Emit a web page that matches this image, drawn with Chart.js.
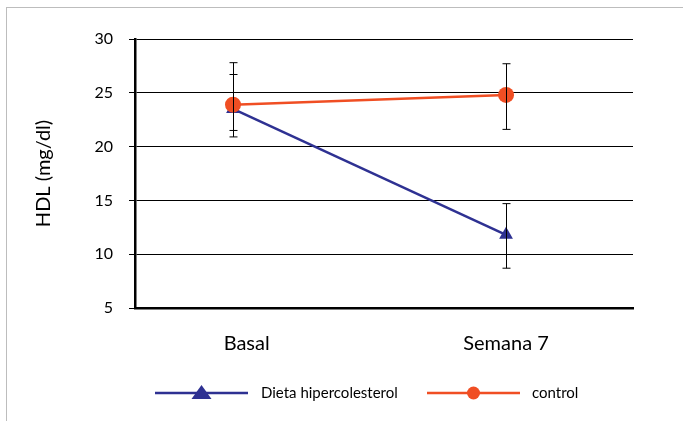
<!DOCTYPE html>
<html>
<head>
<meta charset="utf-8">
<script src="https://cdn.jsdelivr.net/npm/chart.js@4"></script>
<style>
  body { margin: 0; background: #fff; }
  #frame { position: absolute; left: 6px; top: 7px; width: 720px; height: 460px;
           border-left: 1px solid #bdbdbd; border-top: 1px solid #bdbdbd; }
  #wrap { position: absolute; left: 0; top: 0; width: 683px; height: 421px; }
</style>
</head>
<body>
<div id="frame"></div>
<div id="wrap"><canvas id="myChart"></canvas></div>
<script>
// categories and series
const categorias = ['Basal', 'Semana 7']
const posX = [0, 1]              // where each group sits on the x axis
const posEtiqueta = [0.05, 1.0]  // where the category labels sit
const dieta = [23.5, 11.8]
const dietaBajo = [20.9, 8.7]
const dietaAlto = [26.7, 14.7]
const control = [23.9, 24.8]
const controlBajo = [21.5, 21.6]
const controlAlto = [27.8, 27.7]
const ticksY = [5, 10, 15, 20, 25, 30]

const AZUL = '#2e3192'
const ROJO = '#f04e23'
const FUENTE = 'Lato, "Open Sans", sans-serif'

const puntos = (vals) => vals.map((v, i) => ({ x: posX[i], y: v }))

// vertical error bars with caps, drawn right after each dataset
const barrasError = {
    id: 'barrasError',
    afterDatasetDraw(chart, args) {
        const ds = chart.data.datasets[args.index]
        if (!ds.bajo) return
        const ctx = chart.ctx
        const xs = chart.scales.x, ys = chart.scales.y
        ctx.save()
        ctx.strokeStyle = '#000'
        ctx.lineWidth = 1
        ds.bajo.forEach((b, i) => {
            const x = Math.round(xs.getPixelForValue(posX[i])) + 0.5
            const y1 = ys.getPixelForValue(b)
            const y2 = ys.getPixelForValue(ds.alto[i])
            ctx.beginPath()
            ctx.moveTo(x, y1); ctx.lineTo(x, y2)
            ctx.moveTo(x - 4, y1); ctx.lineTo(x + 4, y1)
            ctx.moveTo(x - 4, y2); ctx.lineTo(x + 4, y2)
            ctx.stroke()
        })
        ctx.restore()
    }
}

// legend: line + marker + label, under the axis
const leyenda = {
    id: 'leyenda',
    afterDraw(chart) {
        const ctx = chart.ctx
        const y = 393
        const items = [
            { x1: 155, x2: 248, color: AZUL, forma: 'triangle', texto: 'Dieta hipercolesterol', tx: 261 },
            { x1: 427, x2: 520, color: ROJO, forma: 'circle', texto: 'control', tx: 532 }
        ]
        ctx.save()
        items.forEach(it => {
            ctx.strokeStyle = it.color
            ctx.lineWidth = 2.5
            ctx.beginPath(); ctx.moveTo(it.x1, y); ctx.lineTo(it.x2, y); ctx.stroke()
            ctx.fillStyle = it.color
            const cx = (it.x1 + it.x2) / 2
            ctx.beginPath()
            if (it.forma === 'triangle') {
                ctx.moveTo(cx, y - 8); ctx.lineTo(cx + 10, y + 6); ctx.lineTo(cx - 10, y + 6)
                ctx.closePath()
            } else {
                ctx.arc(cx, y, 6.5, 0, Math.PI * 2)
            }
            ctx.fill()
            ctx.fillStyle = '#000'
            ctx.font = '15px ' + FUENTE
            ctx.textBaseline = 'middle'
            ctx.fillText(it.texto, it.tx, y)
        })
        ctx.restore()
    }
}

var ctx = document.getElementById('myChart')
var myChart = new Chart(ctx, {
    type: 'line',
    data: {
        datasets: [{
            label: 'Dieta hipercolesterol',
            data: puntos(dieta),
            bajo: dietaBajo,
            alto: dietaAlto,
            borderColor: AZUL,
            backgroundColor: AZUL,
            borderWidth: 2.5,
            pointStyle: 'triangle',
            pointRadius: 8,
            pointBorderWidth: 0,
            order: 1
        }, {
            label: 'control',
            data: puntos(control),
            bajo: controlBajo,
            alto: controlAlto,
            borderColor: ROJO,
            backgroundColor: ROJO,
            borderWidth: 2.5,
            pointStyle: 'circle',
            pointRadius: 8,
            pointBorderWidth: 0,
            order: 0
        }]
    },
    options: {
        responsive: true,
        maintainAspectRatio: false,
        animation: false,
        layout: { padding: { top: 39, right: 50, left: 0, bottom: 0 } },
        plugins: {
            legend: { display: false },
            tooltip: { enabled: false }
        },
        scales: {
            x: {
                type: 'linear',
                min: -0.359,
                max: 1.465,
                afterFit: s => { s.height = 113 },
                afterBuildTicks: s => { s.ticks = posEtiqueta.map(v => ({ value: v })) },
                grid: { display: false, drawTicks: false },
                border: { display: true, color: '#000', width: 2.5 },
                ticks: {
                    padding: 24,
                    color: '#000',
                    font: { family: FUENTE, size: 20 },
                    callback: (v, i) => categorias[i]
                }
            },
            y: {
                min: 5,
                max: 30,
                afterFit: s => { s.width = 135 },
                afterBuildTicks: s => { s.ticks = ticksY.map(v => ({ value: v })) },
                grid: { color: '#000', lineWidth: 1, tickLength: 6, tickColor: '#000' },
                border: { display: true, color: '#000', width: 2.5 },
                ticks: {
                    padding: 16,
                    color: '#000',
                    font: { family: FUENTE, size: 16 }
                },
                title: {
                    display: true,
                    text: 'HDL (mg/dl)',
                    color: '#000',
                    font: { family: FUENTE, size: 20 },
                    padding: { top: 32, bottom: 0 }
                }
            }
        }
    },
    plugins: [barrasError, leyenda]
})
</script>
</body>
</html>
